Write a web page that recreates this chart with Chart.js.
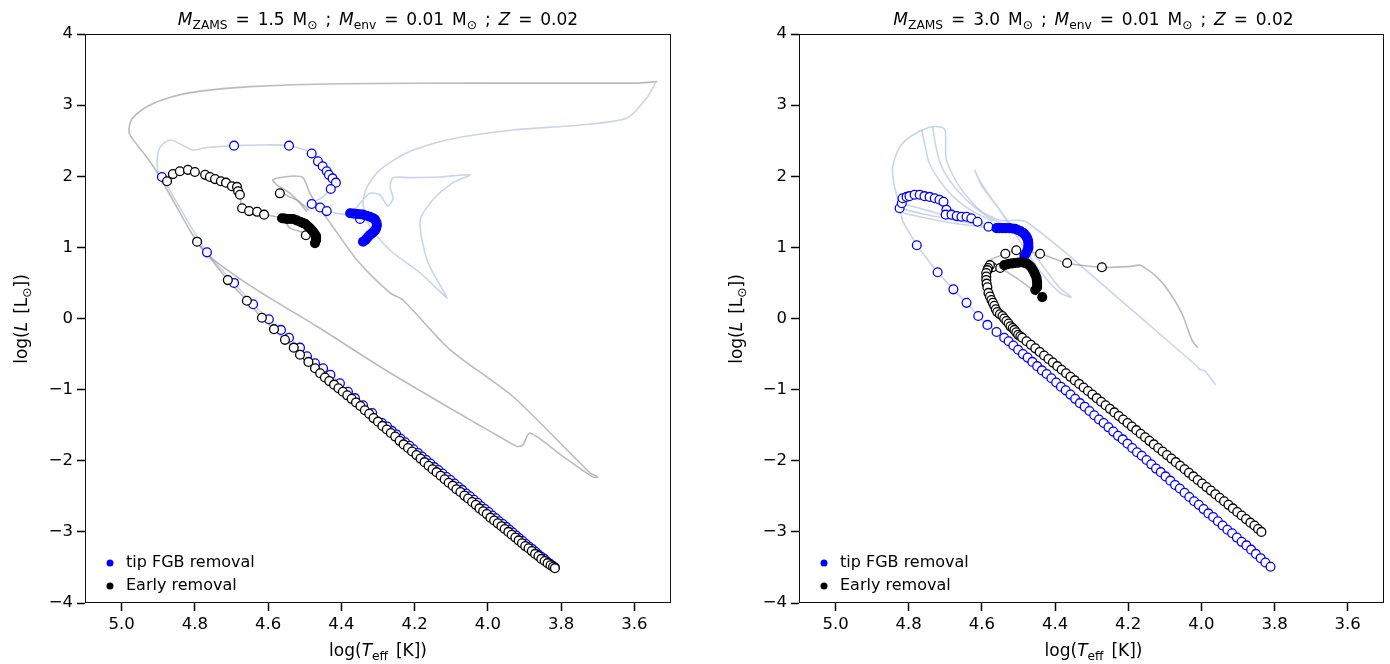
<!DOCTYPE html>
<html>
<head>
<meta charset="utf-8">
<script src="https://cdn.jsdelivr.net/npm/chart.js@4.4.1/dist/chart.umd.min.js"></script>
<style>
  body { margin: 0; background: #fff; font-family: "DejaVu Sans", sans-serif; }
  #wrap { position: relative; width: 1390px; height: 664px; overflow: hidden; }
  canvas { position: absolute; top: 0; }
  .lbl { position: absolute; font-size: 17px; line-height: 20px; color: #000; white-space: nowrap; text-align: center; word-spacing: 2.5px; }
  .sub { font-size: 72%; position: relative; top: 0.3em; }
  .rot { transform: rotate(-90deg); width: 200px; }
</style>
</head>
<body>
<div id="wrap">
  <canvas id="hrLeft" width="695" height="664" style="left:0"></canvas>
  <canvas id="hrRight" width="695" height="664" style="left:695px"></canvas>

  <div class="lbl" style="left:85px;width:586px;top:9px"><i>M</i><span class="sub">ZAMS</span> = 1.5 M<span class="sub">⊙</span> ; <i>M</i><span class="sub">env</span> = 0.01 M<span class="sub">⊙</span> ; <i>Z</i> = 0.02</div>
  <div class="lbl" style="left:799px;width:589px;top:9px"><i>M</i><span class="sub">ZAMS</span> = 3.0 M<span class="sub">⊙</span> ; <i>M</i><span class="sub">env</span> = 0.01 M<span class="sub">⊙</span> ; <i>Z</i> = 0.02</div>

  <div class="lbl" style="left:85px;width:586px;top:640px">log(<i>T</i><span class="sub">eff</span> [K])</div>
  <div class="lbl" style="left:799px;width:589px;top:640px">log(<i>T</i><span class="sub">eff</span> [K])</div>

  <div class="lbl rot" style="left:-78px;top:308px">log(<i>L</i> [L<span class="sub">⊙</span>])</div>
  <div class="lbl rot" style="left:637px;top:308px">log(<i>L</i> [L<span class="sub">⊙</span>])</div>
</div>

<script>
// axis ticks
const xTicks = [5.0, 4.8, 4.6, 4.4, 4.2, 4.0, 3.8, 3.6];
const yTicks = [-4, -3, -2, -1, 0, 1, 2, 3, 4];
const legendLabels = ["tip FGB removal", "Early removal"];
const legendColors = ["#0000ff", "#000000"];

// ---------- M_ZAMS = 1.5 : tracks [logTeff, logL] ----------
const leftGrayTrack = [
  [3.538,3.33],[3.60,3.31],[4.00,3.31],[4.40,3.30],[4.65,3.26],[4.78,3.20],[4.86,3.12],[4.93,2.98],
  [4.97,2.82],[4.98,2.66],[4.975,2.56],[4.93,2.26],[4.895,1.99],[4.876,1.81],[4.786,1.01],[4.737,0.78],
  [4.63,0.40],[4.464,-0.12],[4.281,-0.72],[4.057,-1.40],[3.935,-1.76],[3.92,-1.80],[3.905,-1.78],
  [3.885,-1.61],[3.80,-1.92],[3.713,-2.23],[3.70,-2.23],[3.721,-2.17],[3.931,-1.10],[4.103,-0.44],
  [4.232,0.26],[4.267,0.36],[4.357,0.82],[4.43,1.34],[4.45,1.48],[4.486,1.76],[4.505,1.98],[4.54,2.00],
  [4.587,1.95],[4.576,1.88],[4.54,1.76],[4.513,1.62],[4.494,1.50]
];
const leftGrayHook = [[4.565,1.78],[4.545,1.72],[4.52,1.66],[4.50,1.58],[4.49,1.52]];
const leftGrayBlob = [[4.611,1.46],[4.562,1.41],[4.54,1.27],[4.494,1.20]];

const leftBlueLoop = [
  [3.543,3.31],[3.565,3.11],[3.62,2.82],[3.748,2.72],[3.931,2.65],[4.112,2.51],[4.221,2.33],[4.295,2.09],
  [4.33,1.85],[4.341,1.62],[4.322,1.29],[4.267,0.96],[4.185,0.64],[4.112,0.29],[4.123,0.40],[4.166,0.82],
  [4.185,1.38],[4.15,1.67],[4.095,1.91],[4.049,2.02],[4.131,1.99],[4.213,1.98],[4.259,1.98],[4.267,1.85],
  [4.259,1.69],[4.273,1.58],[4.295,1.74],[4.322,1.76],[4.349,1.62],[4.371,1.48]
];
const leftBlueArcTrack = [
  [4.90,1.99],[4.903,2.23],[4.895,2.41],[4.868,2.51],[4.835,2.44],[4.805,2.37],[4.772,2.40],[4.693,2.43],
  [4.622,2.44],[4.543,2.43],[4.48,2.33],[4.445,2.13],[4.415,1.91],[4.431,1.81],[4.45,1.71],[4.48,1.61],
  [4.439,1.51],[4.39,1.46],[4.371,1.47]
];

// ---------- M_ZAMS = 1.5 : models ----------
const leftBlueOpenArc = [
  [4.693,2.43],[4.543,2.43],[4.481,2.32],[4.464,2.21],[4.451,2.14],[4.44,2.07],[4.434,2.02],[4.424,1.97],
  [4.415,1.91],[4.429,1.82],[4.481,1.61],[4.458,1.56],[4.44,1.51],[4.349,1.40]
];
const leftBlueFilled = [
  [4.376,1.48],[4.367,1.475],[4.357,1.47],[4.349,1.465],[4.341,1.46],[4.331,1.445],[4.322,1.43],[4.313,1.41],
  [4.308,1.39],[4.304,1.35],[4.303,1.31],[4.305,1.27],[4.308,1.24],[4.312,1.22],[4.316,1.20],[4.322,1.175],
  [4.327,1.15],[4.331,1.125],[4.335,1.10],[4.341,1.08]
];
const leftBlueDiag = [
  [4.89,1.99],[4.767,0.93],[4.693,0.50],[4.641,0.20],[4.598,-0.01],[4.565,-0.16],[4.543,-0.27],[4.513,-0.41],
  [4.494,-0.53],[4.472,-0.63],[4.45,-0.70],[4.43,-0.79],[4.404,-0.91],[4.382,-1.03],[4.363,-1.12],[4.341,-1.22],
  [4.316,-1.33],[4.289,-1.47],[4.275,-1.52],[4.262,-1.58],[4.250,-1.63],[4.238,-1.69],[4.226,-1.74],[4.214,-1.79],
  [4.203,-1.84],[4.191,-1.89],[4.180,-1.94],[4.168,-1.99],[4.157,-2.04],[4.146,-2.09],[4.135,-2.13],[4.124,-2.18],
  [4.113,-2.23],[4.102,-2.27],[4.091,-2.32],[4.080,-2.37],[4.070,-2.41],[4.059,-2.46],[4.049,-2.50],[4.038,-2.55],
  [4.028,-2.59],[4.018,-2.64],[4.008,-2.68],[3.998,-2.72],[3.988,-2.77],[3.978,-2.81],[3.969,-2.85],[3.959,-2.89],
  [3.950,-2.93],[3.941,-2.97],[3.932,-3.01],[3.923,-3.05],[3.914,-3.09],[3.905,-3.13],[3.896,-3.17],[3.887,-3.21],
  [3.879,-3.24],[3.870,-3.28],[3.862,-3.32],[3.854,-3.35],[3.846,-3.38],[3.838,-3.42],[3.830,-3.45],[3.822,-3.48],
  [3.817,-3.50]
];
const leftBlackArc = [
  [4.876,1.93],[4.86,2.03],[4.841,2.07],[4.819,2.09],[4.80,2.06],[4.772,2.02],[4.759,1.99],[4.745,1.96],
  [4.729,1.93],[4.715,1.91],[4.699,1.86],[4.685,1.85],[4.682,1.79],[4.677,1.74],[4.671,1.55],[4.652,1.51],
  [4.63,1.50],[4.611,1.46]
];
const leftBlackExtra = [[4.568,1.76],[4.497,1.17]];
const leftBlackFilled = [
  [4.562,1.41],[4.555,1.405],[4.548,1.40],[4.540,1.40],[4.532,1.40],[4.522,1.38],[4.513,1.36],[4.506,1.345],
  [4.499,1.33],[4.492,1.30],[4.486,1.27],[4.481,1.245],[4.477,1.22],[4.473,1.19],[4.469,1.16],[4.469,1.13],
  [4.469,1.10],[4.472,1.06]
];
const leftBlackDiag = [
  [4.794,1.08],[4.71,0.54],[4.658,0.25],[4.617,0.01],[4.584,-0.15],[4.554,-0.30],[4.53,-0.41],[4.513,-0.51],
  [4.49,-0.61],[4.472,-0.70],[4.458,-0.77],[4.445,-0.83],[4.433,-0.88],[4.420,-0.93],[4.408,-0.98],[4.396,-1.03],
  [4.384,-1.08],[4.372,-1.13],[4.360,-1.18],[4.348,-1.23],[4.336,-1.29],[4.324,-1.34],[4.312,-1.40],[4.300,-1.45],
  [4.288,-1.51],[4.276,-1.56],[4.265,-1.61],[4.253,-1.66],[4.241,-1.72],[4.230,-1.77],[4.218,-1.82],[4.207,-1.87],
  [4.195,-1.92],[4.184,-1.97],[4.173,-2.02],[4.162,-2.07],[4.151,-2.12],[4.140,-2.16],[4.129,-2.21],[4.118,-2.26],
  [4.107,-2.31],[4.096,-2.35],[4.086,-2.40],[4.075,-2.44],[4.064,-2.49],[4.054,-2.53],[4.043,-2.58],[4.033,-2.62],
  [4.023,-2.67],[4.013,-2.71],[4.003,-2.75],[3.993,-2.80],[3.983,-2.84],[3.973,-2.88],[3.963,-2.92],[3.954,-2.96],
  [3.944,-3.00],[3.935,-3.04],[3.925,-3.08],[3.916,-3.12],[3.907,-3.16],[3.898,-3.20],[3.889,-3.23],[3.880,-3.27],
  [3.871,-3.31],[3.862,-3.34],[3.854,-3.38],[3.845,-3.41],[3.837,-3.44],[3.829,-3.47],[3.822,-3.49],[3.817,-3.51]
];

// ---------- M_ZAMS = 3.0 : tracks ----------
const rightBlueOuter = [
  [4.778,1.03],[4.792,1.15],[4.817,1.38],[4.83,1.67],[4.841,1.91],[4.844,2.13],[4.825,2.41],[4.789,2.58],
  [4.743,2.69],[4.71,2.69],[4.70,2.64],[4.697,2.23],[4.661,1.85],[4.607,1.53],[4.552,1.38],[4.50,1.38],
  [4.479,1.36],[4.37,0.92],[4.19,0.12],[4.01,-0.68],[4.007,-0.71],[3.99,-0.74],[3.961,-0.935]
];
const rightBlueInner1 = [[4.735,2.70],[4.727,2.45],[4.715,2.20],[4.69,1.95],[4.645,1.68],[4.59,1.45],[4.54,1.32]];
const rightBlueInner2 = [[4.765,2.66],[4.755,2.42],[4.745,2.20],[4.72,1.97],[4.68,1.72],[4.63,1.52],[4.57,1.37]];
const rightBlueFan1 = [[4.825,1.55],[4.76,1.47],[4.69,1.40],[4.62,1.33],[4.56,1.27]];
const rightBlueFan2 = [[4.82,1.62],[4.75,1.52],[4.68,1.42],[4.61,1.35],[4.56,1.30]];
const rightBlueFan3 = [[4.83,1.50],[4.76,1.42],[4.69,1.35],[4.62,1.30],[4.57,1.26]];
const rightBlueTongue = [
  [4.62,2.09],[4.607,1.95],[4.571,1.67],[4.517,1.29],[4.451,0.86],[4.389,0.44],[4.356,0.30],[4.389,0.37],
  [4.443,0.68],[4.498,1.10],[4.552,1.53],[4.599,1.85],[4.618,2.06]
];
const rightGrayTrack = [
  [4.59,0.80],[4.536,0.91],[4.506,0.96],[4.441,0.91],[4.367,0.78],[4.272,0.72],[4.20,0.73],[4.171,0.75],
  [4.163,0.74],[4.13,0.62],[4.097,0.44],[4.054,0.08],[4.026,-0.30],[4.01,-0.41]
];
const rightGrayBlob = [[4.552,0.72],[4.50,0.55],[4.451,0.36]];

// ---------- M_ZAMS = 3.0 : models ----------
const rightBlueOpenArc = [
  [4.825,1.55],[4.819,1.62],[4.817,1.69],[4.806,1.71],[4.798,1.72],[4.784,1.74],[4.770,1.74],[4.757,1.72],
  [4.743,1.71],[4.729,1.69],[4.716,1.67],[4.705,1.64],[4.697,1.53],[4.699,1.46],[4.683,1.46],[4.669,1.44],
  [4.656,1.43],[4.642,1.43],[4.629,1.41],[4.612,1.36],[4.582,1.29]
];
const rightBlueFilled = [
  [4.56,1.27],[4.552,1.27],[4.544,1.27],[4.535,1.27],[4.525,1.27],[4.517,1.265],[4.509,1.26],[4.502,1.245],
  [4.495,1.23],[4.489,1.21],[4.484,1.19],[4.479,1.16],[4.476,1.13],[4.474,1.10],[4.473,1.06],[4.473,1.02],
  [4.473,0.99],[4.476,0.955],[4.479,0.92],[4.484,0.88]
];
const rightBlueDiag = [
  [4.778,1.03],[4.721,0.65],[4.678,0.41],[4.642,0.22],[4.61,0.035],[4.585,-0.09],[4.56,-0.19],[4.539,-0.27],
  [4.527,-0.32],[4.514,-0.38],[4.501,-0.44],[4.488,-0.50],[4.475,-0.55],[4.462,-0.61],[4.449,-0.67],[4.436,-0.73],
  [4.423,-0.78],[4.410,-0.84],[4.397,-0.90],[4.384,-0.96],[4.371,-1.01],[4.358,-1.07],[4.345,-1.13],[4.332,-1.19],
  [4.319,-1.24],[4.306,-1.30],[4.293,-1.36],[4.280,-1.42],[4.267,-1.47],[4.254,-1.53],[4.241,-1.59],[4.228,-1.65],
  [4.215,-1.70],[4.202,-1.76],[4.189,-1.82],[4.176,-1.88],[4.163,-1.93],[4.150,-1.99],[4.137,-2.05],[4.124,-2.11],
  [4.111,-2.16],[4.098,-2.22],[4.085,-2.28],[4.072,-2.34],[4.059,-2.39],[4.046,-2.45],[4.033,-2.51],[4.020,-2.57],
  [4.007,-2.62],[3.994,-2.68],[3.981,-2.74],[3.968,-2.79],[3.955,-2.85],[3.942,-2.91],[3.929,-2.97],[3.916,-3.02],
  [3.903,-3.08],[3.890,-3.14],[3.877,-3.19],[3.864,-3.25],[3.851,-3.31],[3.838,-3.37],[3.825,-3.43],[3.811,-3.49]
];
const rightBlackUpper = [[4.536,0.91],[4.506,0.96],[4.441,0.91],[4.367,0.78],[4.272,0.72],[4.571,0.72],[4.55,0.71]];
const rightBlackFilled = [
  [4.539,0.75],[4.532,0.76],[4.525,0.77],[4.517,0.775],[4.509,0.78],[4.50,0.785],[4.49,0.79],[4.483,0.78],
  [4.476,0.77],[4.47,0.745],[4.465,0.72],[4.461,0.685],[4.457,0.65],[4.454,0.615],[4.451,0.58],[4.45,0.545],
  [4.449,0.51],[4.449,0.475],[4.449,0.44],[4.454,0.40],[4.435,0.30]
];
const rightBlackDiag = [
  [4.578,0.75],[4.583,0.71],[4.585,0.68],[4.588,0.64],[4.588,0.59],[4.588,0.54],[4.587,0.49],[4.585,0.44],
  [4.582,0.36],[4.578,0.31],[4.574,0.26],[4.570,0.22],[4.566,0.18],[4.562,0.13],[4.558,0.09],[4.551,0.06],
  [4.544,0.035],[4.539,0.0],[4.533,-0.035],[4.527,-0.07],[4.522,-0.11],[4.516,-0.135],[4.511,-0.16],[4.506,-0.195],
  [4.501,-0.23],[4.495,-0.25],[4.49,-0.27],[4.478,-0.32],[4.466,-0.37],[4.454,-0.42],[4.442,-0.47],[4.430,-0.52],
  [4.418,-0.57],[4.406,-0.62],[4.394,-0.67],[4.382,-0.72],[4.370,-0.77],[4.358,-0.82],[4.346,-0.87],[4.334,-0.92],
  [4.322,-0.97],[4.310,-1.02],[4.298,-1.07],[4.286,-1.12],[4.274,-1.17],[4.262,-1.22],[4.250,-1.27],[4.238,-1.32],
  [4.226,-1.37],[4.214,-1.42],[4.202,-1.47],[4.190,-1.52],[4.178,-1.57],[4.166,-1.62],[4.154,-1.67],[4.142,-1.72],
  [4.130,-1.77],[4.118,-1.82],[4.106,-1.87],[4.094,-1.92],[4.082,-1.97],[4.070,-2.02],[4.058,-2.07],[4.046,-2.12],
  [4.034,-2.17],[4.022,-2.22],[4.010,-2.27],[3.998,-2.32],[3.986,-2.37],[3.974,-2.42],[3.962,-2.47],[3.950,-2.52],
  [3.938,-2.57],[3.926,-2.62],[3.914,-2.67],[3.902,-2.72],[3.890,-2.77],[3.878,-2.82],[3.866,-2.87],[3.855,-2.91],
  [3.845,-2.96],[3.836,-3.00]
];

const GRAY = "rgba(150,150,150,0.65)";
const LBLUE = "rgba(176,196,222,0.7)";
const BLUE = "#0000ff";
const BLACK = "#000000";
const FONT = "DejaVu Sans";

const xy = arr => arr.map(([x, y]) => ({ x, y }));

function track(arr, color) {
  return { data: xy(arr), showLine: true, borderColor: color, borderWidth: 1.6,
           pointRadius: 0, tension: 0.25, fill: false, order: 10 };
}
function models(arr, color, filled, label) {
  return { label: label, data: xy(arr), showLine: false,
           pointRadius: 4.4, pointBorderWidth: 1.3,
           pointBorderColor: color, pointBackgroundColor: filled ? color : "#ffffff",
           borderColor: color, backgroundColor: color,
           order: color === BLACK ? 1 : 5 };
}

const fmt = (v, d) => (v < 0 ? "\u2212" : "") + Math.abs(v).toFixed(d);

const frame = {
  id: "frame",
  afterDraw(chart) {
    const { ctx, chartArea: a } = chart;
    ctx.save();
    ctx.strokeStyle = "#111";
    ctx.lineWidth = 1;
    ctx.strokeRect(Math.round(a.left) + 0.5, Math.round(a.top) + 0.5,
                   Math.round(a.width) - 1, Math.round(a.height) - 1);
    // legend inside the axes, lower left
    ctx.font = "16px '" + FONT + "'";
    ctx.textBaseline = "middle";
    legendLabels.forEach((t, i) => {
      const y = a.bottom - 40 + i * 23;
      ctx.fillStyle = legendColors[i];
      ctx.beginPath();
      ctx.arc(a.left + 25, y, 3.5, 0, Math.PI * 2);
      ctx.fill();
      ctx.fillStyle = "#000";
      ctx.fillText(t, a.left + 41, y);
    });
    ctx.restore();
  }
};

function makeChart(id, datasets, padRight, yWidth) {
  const tickGrid = { display: true, drawOnChartArea: false, drawTicks: true,
                     tickLength: 8, tickWidth: 1.5, tickColor: "#000" };
  return new Chart(document.getElementById(id), {
    type: "scatter",
    data: { datasets },
    options: {
      responsive: false,
      animation: false,
      devicePixelRatio: 1,
      layout: { padding: { left: 0, right: padRight, top: 34, bottom: 0 } },
      plugins: { legend: { display: false }, tooltip: { enabled: false } },
      scales: {
        x: {
          type: "linear", min: 3.5, max: 5.1, reverse: true,
          afterBuildTicks: s => { s.ticks = xTicks.map(v => ({ value: v })); },
          afterFit: s => { s.height = 61; },
          ticks: { font: { family: FONT, size: 16.5 }, color: "#000", padding: 4,
                   maxRotation: 0, autoSkip: false, callback: v => fmt(v, 1) },
          grid: tickGrid,
          border: { display: false }
        },
        y: {
          type: "linear", min: -4, max: 4,
          afterBuildTicks: s => { s.ticks = yTicks.map(v => ({ value: v })); },
          afterFit: s => { s.width = yWidth; },
          ticks: { font: { family: FONT, size: 16.5 }, color: "#000", padding: 4,
                   autoSkip: false, callback: v => fmt(v, 0) },
          grid: tickGrid,
          border: { display: false }
        }
      }
    },
    plugins: [frame]
  });
}

makeChart("hrLeft", [
  models(leftBlackFilled, BLACK, true, legendLabels[1]),
  models(leftBlackDiag, BLACK, false),
  models(leftBlackArc, BLACK, false),
  models(leftBlackExtra, BLACK, false),
  models(leftBlueFilled, BLUE, true, legendLabels[0]),
  models(leftBlueOpenArc, BLUE, false),
  models(leftBlueDiag, BLUE, false),
  track(leftGrayTrack, GRAY),
  track(leftGrayHook, GRAY),
  track(leftGrayBlob, GRAY),
  track(leftBlackArc, GRAY),
  track(leftBlackDiag, GRAY),
  track(leftBlueLoop, LBLUE),
  track(leftBlueArcTrack, LBLUE),
  track(leftBlueDiag, LBLUE)
], 24, 85);

makeChart("hrRight", [
  models(rightBlackFilled, BLACK, true, legendLabels[1]),
  models(rightBlackDiag, BLACK, false),
  models(rightBlackUpper, BLACK, false),
  models(rightBlueFilled, BLUE, true, legendLabels[0]),
  models(rightBlueOpenArc, BLUE, false),
  models(rightBlueDiag, BLUE, false),
  track(rightGrayTrack, GRAY),
  track(rightGrayBlob, GRAY),
  track(rightBlackDiag, GRAY),
  track(rightBlueOuter, LBLUE),
  track(rightBlueInner1, LBLUE),
  track(rightBlueInner2, LBLUE),
  track(rightBlueFan1, LBLUE),
  track(rightBlueFan2, LBLUE),
  track(rightBlueFan3, LBLUE),
  track(rightBlueTongue, LBLUE),
  track(rightBlueDiag, LBLUE)
], 2, 104);
</script>
</body>
</html>
